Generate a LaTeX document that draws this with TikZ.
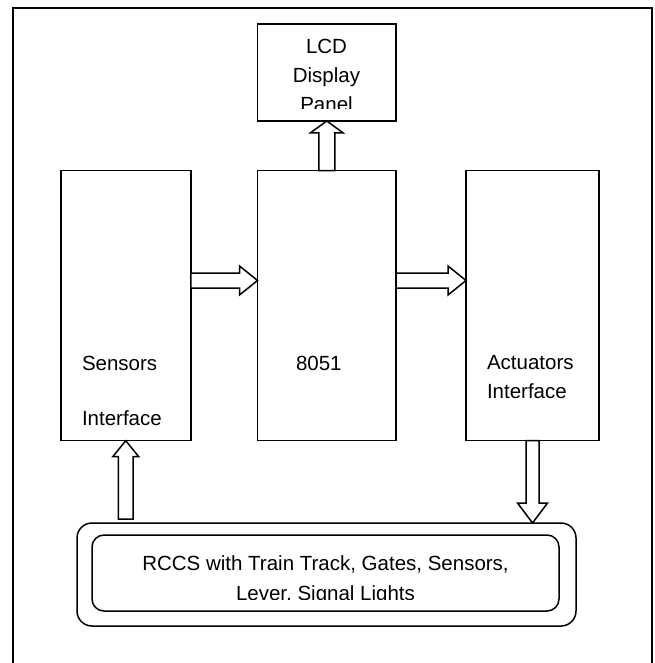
\documentclass[tikz,border=0pt]{standalone}
\usepackage{fontspec}
\setmainfont{Liberation Sans}
\usetikzlibrary{calc}
\tikzset{
  blockbox/.style={draw, line width=1.5pt, rectangle, inner sep=0pt, outer sep=0pt},
  roundbox/.style={draw, line width=1.5pt, rectangle, rounded corners=#1, inner sep=0pt, outer sep=0pt},
  lbl/.style={inner sep=0pt, outer sep=0pt, anchor=base west, font=\fontsize{20.5}{24}\selectfont},
  clbl/.style={inner sep=0pt, outer sep=0pt, anchor=base, font=\fontsize{20.5}{24}\selectfont},
  blk/.style={draw, fill=white, line width=1.5pt, line join=miter},
  frame/.style={draw, line width=1.6pt}
}
% #1 start, #2 tip, #3 shaft half width, #4 head half width, #5 head length
\newcommand\fatarrow[5]{%
  \coordinate (hb) at ($(#2)!#5!(#1)$);
  \draw[blk] ($(#1)!#3!90:(#2)$) -- ($(hb)!#3!90:(#2)$) -- ($(hb)!#4!90:(#2)$)
     -- (#2) -- ($(hb)!#4!-90:(#2)$) -- ($(hb)!#3!-90:(#2)$) -- ($(#1)!#3!-90:(#2)$) -- cycle;
}
\begin{document}
\begin{tikzpicture}[x=1pt,y=-1pt]
\useasboundingbox (0,0) rectangle (654,663);
% outer frame
\draw[frame] (13,663) -- (13,8) -- (652,8) -- (652,663);

% blocks
\node[blockbox, minimum width=138.5pt, minimum height=97pt] (lcd) at (326.75,72.5) {};
\node[blockbox, minimum width=130pt, minimum height=270pt] (sens) at (125.75,305.7) {};
\node[blockbox, minimum width=138.5pt, minimum height=270pt] (cpu) at (326.75,305.7) {};
\node[blockbox, minimum width=133pt, minimum height=270pt] (act) at (532.5,305.7) {};
\node[roundbox=15pt, minimum width=499pt, minimum height=103pt] (rccs) at (326.5,574.5) {};
\node[roundbox=12pt, minimum width=467pt, minimum height=76pt] (rccsin) at (325.5,573) {};

% texts
\begin{scope}
  \clip (257,24) rectangle (396,109);
  \node[clbl] (tlcd1) at (326.5,54) {LCD};
  \node[clbl] (tlcd2) at (326.5,83) {Display};
  \node[clbl] (tlcd3) at (326.5,112) {Panel};
\end{scope}
\node[lbl] (tsens1) at (82,370) {Sensors};
\node[lbl] (tsens2) at (82,425.5) {Interface};
\node[lbl] (tcpu) at (296,370) {8051};
\node[lbl] (tact1) at (487,369) {Actuators};
\node[lbl] (tact2) at (487,398) {Interface};
\begin{scope}
  \clip (92,535) rectangle (559,599.5);
  \node[clbl] (trccs1) at (325.5,570) {RCCS with Train Track, Gates, Sensors,};
  \node[clbl] (trccs2) at (325.5,600) {Lever, Signal Lights};
\end{scope}

% block arrows
\coordinate (a1s) at (sens.east |- 0,280.5);
\coordinate (a1t) at (cpu.west |- 0,280.5);
\fatarrow{a1s}{a1t}{7.5pt}{14.5pt}{18pt}
\coordinate (a2s) at (cpu.east |- 0,280.5);
\coordinate (a2t) at (act.west |- 0,280.5);
\fatarrow{a2s}{a2t}{7.5pt}{14.5pt}{18pt}
\coordinate (a3s) at (cpu.north);
\coordinate (a3t) at (lcd.south);
\fatarrow{a3s}{a3t}{8pt}{16.5pt}{12pt}
\coordinate (a4s) at (sens.south |- 0,519);
\coordinate (a4t) at (sens.south);
\fatarrow{a4s}{a4t}{7.3pt}{13pt}{16pt}
\coordinate (a5s) at (act.south);
\coordinate (a5t) at (act.south |- rccs.north);
\fatarrow{a5s}{a5t}{6.5pt}{15pt}{20pt}
\end{tikzpicture}
\end{document}
